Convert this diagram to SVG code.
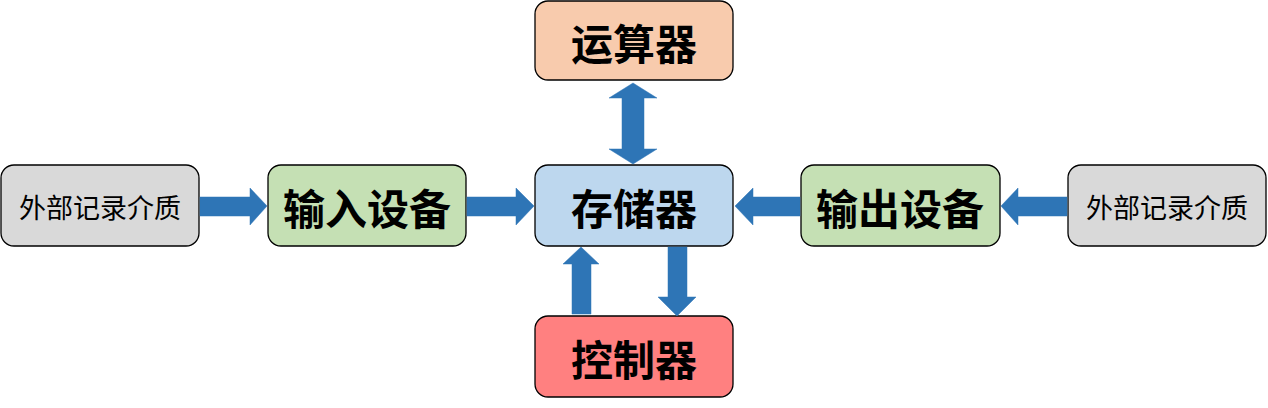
<svg xmlns="http://www.w3.org/2000/svg" width="1268" height="408" viewBox="0 0 1268 408">
<style>
.box{stroke:#000;stroke-width:1.3}
.big{font-family:"Noto Sans CJK SC","Noto Sans CJK JP",sans-serif;font-size:42px;font-weight:bold;fill:#000;text-anchor:middle;dominant-baseline:central}
.small{font-family:"Noto Sans CJK SC","Noto Sans CJK JP",sans-serif;font-size:27px;font-weight:normal;fill:#000;text-anchor:middle;dominant-baseline:central}
.arr{fill:#2E75B6;stroke:#2E75B6;stroke-width:0.5}
</style>
<rect width="1268" height="408" fill="#fff"/>
<g id="alu"><rect class="box" x="535" y="1" width="198" height="79" rx="13" fill="#F8CBAD"/><text class="big" x="634" y="41">运算器</text></g>
<g id="memory"><rect class="box" x="535" y="165" width="198" height="81" rx="13" fill="#BDD7EE"/><text class="big" x="634" y="206">存储器</text></g>
<g id="control"><rect class="box" x="535" y="316" width="198" height="81" rx="13" fill="#FF8080"/><text class="big" x="634" y="357">控制器</text></g>
<g id="input"><rect class="box" x="268" y="165" width="198" height="81" rx="13" fill="#C5E0B4"/><text class="big" x="367" y="206">输入设备</text></g>
<g id="output"><rect class="box" x="801" y="165" width="199" height="81" rx="13" fill="#C5E0B4"/><text class="big" x="900" y="206">输出设备</text></g>
<g id="ext-left"><rect class="box" x="1" y="165" width="198" height="81" rx="13" fill="#D9D9D9"/><text class="small" x="100" y="206">外部记录介质</text></g>
<g id="ext-right"><rect class="box" x="1068" y="165" width="198" height="81" rx="13" fill="#D9D9D9"/><text class="small" x="1167" y="206">外部记录介质</text></g>
<g id="connectors">
<polygon class="arr" points="200,197 250,197 250,188 267,206 250,225 250,216 200,216"/>
<polygon class="arr" points="467,197 516,197 516,188 534,206 516,225 516,216 467,216"/>
<polygon class="arr" points="800,197 753,197 753,188 735,206 753,225 753,216 800,216"/>
<polygon class="arr" points="1067,197 1018,197 1018,188 1001,206 1018,225 1018,216 1067,216"/>
<polygon class="arr" points="633,83 657,98 644,98 644,149 657,149 633,164 609,149 622,149 622,98 609,98"/>
<polygon class="arr" points="581,247 599,264 591,264 591,314 572,314 572,264 563,264"/>
<polygon class="arr" points="668,247 687,247 687,297 696,297 677,316 658,297 668,297"/>
</g>
</svg>
